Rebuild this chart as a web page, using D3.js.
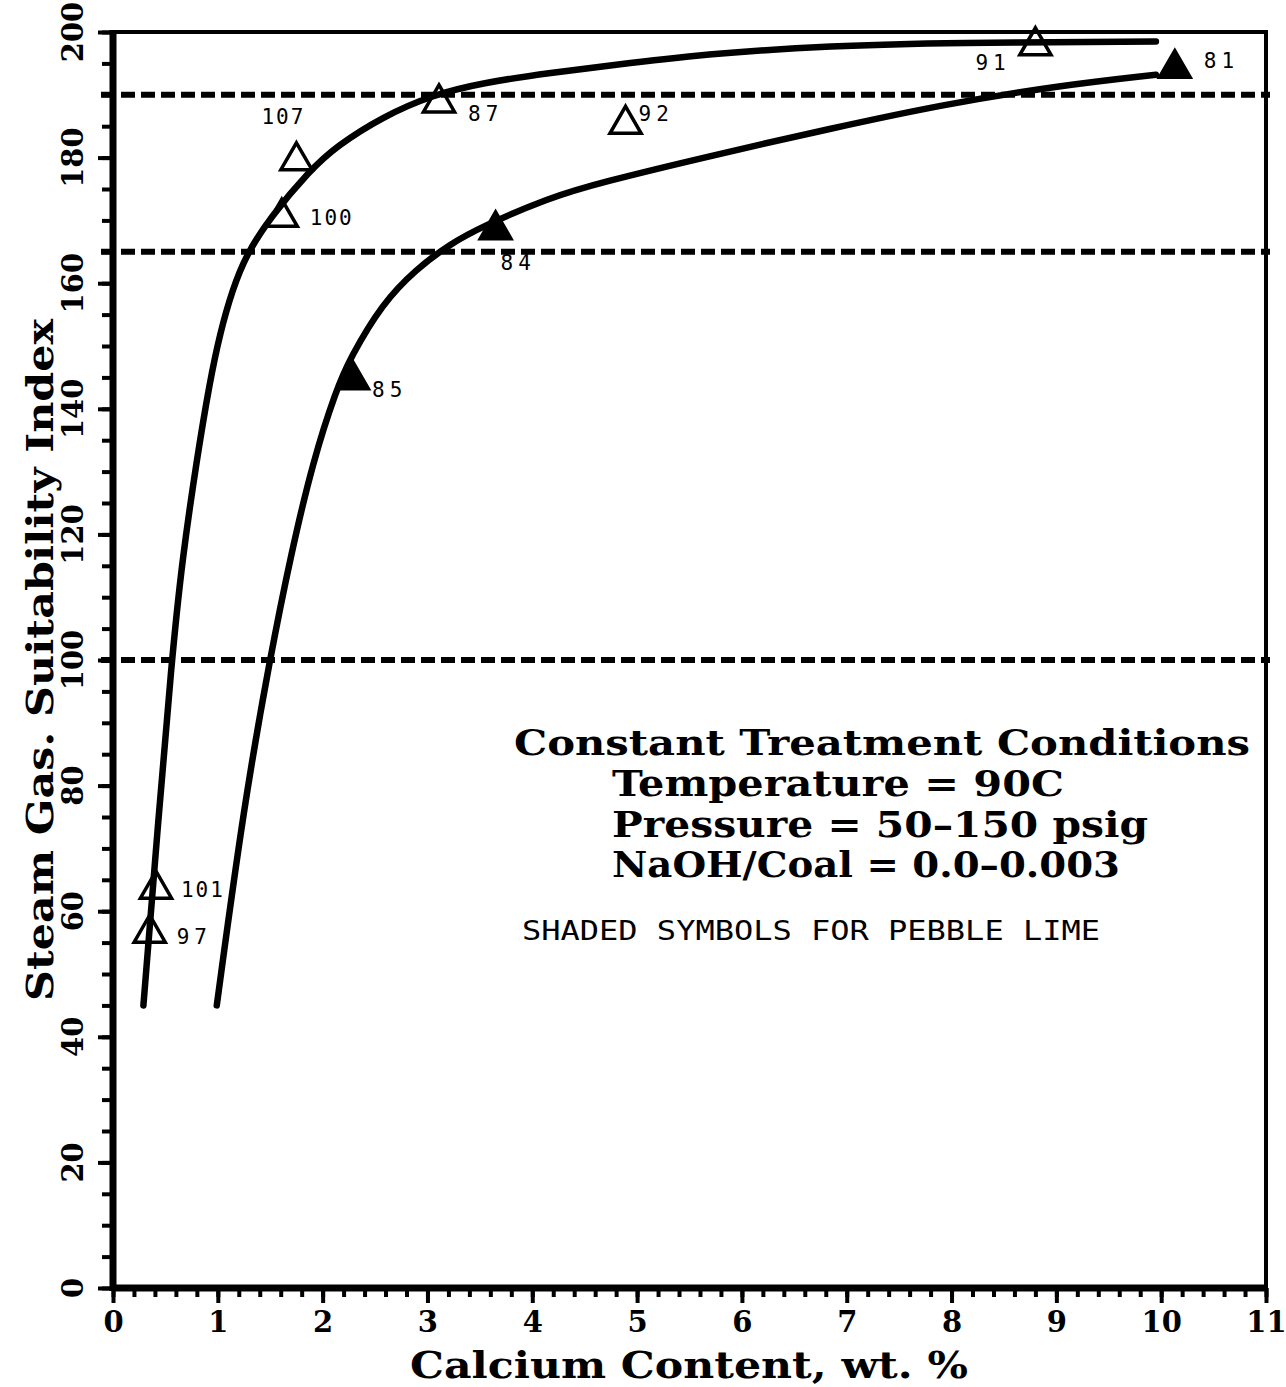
<!DOCTYPE html>
<html>
<head>
<meta charset="utf-8">
<script src="https://cdn.jsdelivr.net/npm/d3@7"></script>
<style>
  body { margin: 0; background: #fff; }
  svg { display: block; }
</style>
</head>
<body>
<div class="chart"></div>
<script>
// Data
const xTickValues = [0, 1, 2, 3, 4, 5, 6, 7, 8, 9, 10, 11];
const yTickValues = [0, 20, 40, 60, 80, 100, 120, 140, 160, 180, 200];

// upper curve (open symbols)
const openCurveX = [0.29, 0.42, 0.56, 0.66, 0.8, 0.92, 1.02, 1.14, 1.27, 1.5, 1.88, 2.13, 2.57, 3.05, 3.52, 4.16, 4.9, 5.73, 6.84, 8.0, 9.95];
const openCurveY = [45, 72, 100, 116, 132, 144, 152, 159, 164.5, 170.5, 178, 181.8, 186.5, 190, 191.9, 193.5, 195, 196.6, 197.8, 198.3, 198.5];

// lower curve (pebble lime)
const limeCurveX = [0.99, 1.25, 1.5, 1.7, 1.91, 2.13, 2.26, 2.57, 2.89, 3.21, 3.53, 4.16, 4.64, 5.73, 6.84, 7.93, 9.04, 9.95];
const limeCurveY = [45, 77, 100.5, 117, 131.8, 143, 148, 156.8, 162.2, 166.2, 169.1, 173.6, 176, 180.4, 184.6, 188.5, 191.5, 193.2];

// reference levels (dashed)
const refLevels = [190, 165, 100];

// open triangles
const openPtX = [0.35, 0.41, 1.61, 1.75, 3.11, 4.89, 8.8];
const openPtY = [56.5, 63.5, 170.5, 179.5, 188.7, 185.3, 197.8];
const openPtLabel = ['97', '101', '100', '107', '87', '92', '91'];

// shaded triangles
const limePtX = [2.29, 3.65, 10.13];
const limePtY = [144.6, 168.5, 194.2];
const limePtLabel = ['85', '84', '81'];

const noteTitle = 'Constant Treatment Conditions';
const noteLines = ['Temperature = 90C', 'Pressure = 50\u2013150 psig', 'NaOH/Coal = 0.0\u20130.003'];
const shadedNote = 'SHADED SYMBOLS FOR PEBBLE LIME';

// Size of svg
const svgWidth = 1286;
const svgHeight = 1387;

const svg = d3
  .select('.chart')
  .append('svg')
  .attr('width', svgWidth)
  .attr('height', svgHeight);

const x = d3.scaleLinear().domain([0, 11]).range([113, 1266]);
const y = d3.scaleLinear().domain([0, 200]).range([1288, 32]);

const serif = '"DejaVu Serif", serif';
const mono = '"DejaVu Sans Mono", monospace';

// minor ticks on x
svg.append('g')
  .attr('transform', `translate(0, ${y(0)})`)
  .call(d3.axisBottom(x).tickValues(d3.range(0, 11.01, 0.2)).tickSize(9).tickFormat(''))
  .call((g) => g.select('.domain').remove())
  .call((g) => g.selectAll('line').attr('stroke-width', 4));

// major ticks on x
const xAxis = svg.append('g')
  .attr('transform', `translate(0, ${y(0)})`)
  .call(d3.axisBottom(x).tickValues(xTickValues).tickSize(15).tickPadding(8).tickFormat(d3.format('d')));
xAxis.select('.domain').remove();
xAxis.selectAll('line').attr('stroke-width', 4);
xAxis.selectAll('text')
  .attr('font-family', serif)
  .attr('font-weight', 'bold')
  .attr('font-size', 29)
  .attr('fill', '#000');

// minor ticks on y
svg.append('g')
  .attr('transform', `translate(${x(0)}, 0)`)
  .call(d3.axisLeft(y).tickValues(d3.range(0, 201, 5)).tickSize(11).tickFormat(''))
  .call((g) => g.select('.domain').remove())
  .call((g) => g.selectAll('line').attr('stroke-width', 4));

// major ticks on y
svg.append('g')
  .attr('transform', `translate(${x(0)}, 0)`)
  .call(d3.axisLeft(y).tickValues(yTickValues).tickSize(15).tickFormat(''))
  .call((g) => g.select('.domain').remove())
  .call((g) => g.selectAll('line').attr('stroke-width', 4));

// y tick labels, rotated
svg.append('g')
  .selectAll('text')
  .data(yTickValues)
  .enter()
  .append('text')
  .attr('transform', (d) => `translate(83, ${y(d)}) rotate(-90)`)
  .attr('text-anchor', 'middle')
  .attr('font-family', serif)
  .attr('font-weight', 'bold')
  .attr('font-size', 29)
  .text((d) => d);

// frame
svg.append('rect')
  .attr('x', x(0))
  .attr('y', y(200))
  .attr('width', x(11) - x(0))
  .attr('height', y(0) - y(200))
  .attr('fill', 'none')
  .attr('stroke', '#000')
  .attr('stroke-width', 4);
svg.append('line')
  .attr('x1', x(0)).attr('x2', x(11))
  .attr('y1', y(0)).attr('y2', y(0))
  .attr('stroke', '#000').attr('stroke-width', 7);
svg.append('line')
  .attr('x1', x(0)).attr('x2', x(0))
  .attr('y1', y(0) + 3).attr('y2', y(200) - 2)
  .attr('stroke', '#000').attr('stroke-width', 7);

// dashed reference lines
svg.append('g')
  .selectAll('line')
  .data(refLevels)
  .enter()
  .append('line')
  .attr('x1', x(0) - 12)
  .attr('x2', x(11) + 4)
  .attr('y1', (d) => y(d))
  .attr('y2', (d) => y(d))
  .attr('stroke', '#000')
  .attr('stroke-width', 6)
  .attr('stroke-dasharray', '14,6');

// curves
const line = d3.line()
  .x((d) => x(d[0]))
  .y((d) => y(d[1]))
  .curve(d3.curveBasis);

const curves = [d3.zip(openCurveX, openCurveY), d3.zip(limeCurveX, limeCurveY)];
svg.append('g')
  .selectAll('path')
  .data(curves)
  .enter()
  .append('path')
  .attr('d', line)
  .attr('fill', 'none')
  .attr('stroke', '#000')
  .attr('stroke-width', 6.5)
  .attr('stroke-linecap', 'round')
  .attr('stroke-linejoin', 'round');

// triangles
const tri = d3.symbol().type(d3.symbolTriangle).size(420);

const openPts = openPtX.map((v, i) => ({ x: v, y: openPtY[i], label: openPtLabel[i] }));
const limePts = limePtX.map((v, i) => ({ x: v, y: limePtY[i], label: limePtLabel[i] }));

svg.append('g')
  .selectAll('path')
  .data(openPts)
  .enter()
  .append('path')
  .attr('d', tri)
  .attr('transform', (d) => `translate(${x(d.x)}, ${y(d.y)})`)
  .attr('fill', 'none')
  .attr('stroke', '#000')
  .attr('stroke-width', 3.5);

svg.append('g')
  .selectAll('path')
  .data(limePts)
  .enter()
  .append('path')
  .attr('d', d3.symbol().type(d3.symbolTriangle).size(480))
  .attr('transform', (d) => `translate(${x(d.x)}, ${y(d.y)})`)
  .attr('fill', '#000')
  .attr('stroke', '#000')
  .attr('stroke-width', 2);

// label offsets next to each symbol
const labelOffset = {
  '97': [27, 11], '101': [25, 8], '100': [28, 8], '107': [-35, -37],
  '87': [29, 18], '92': [13, -3], '91': [-60, 24],
  '85': [19, 17], '84': [5, 40], '81': [29, 0],
};

svg.append('g')
  .selectAll('text')
  .data(openPts.concat(limePts))
  .enter()
  .append('text')
  .attr('x', (d) => x(d.x) + labelOffset[d.label][0])
  .attr('y', (d) => y(d.y) + labelOffset[d.label][1])
  .attr('font-family', mono)
  .attr('font-size', 21)
  .attr('letter-spacing', (d) => (d.label.length === 2 ? 5 : 2))
  .text((d) => d.label);

// conditions note
svg.append('text')
  .attr('x', 514)
  .attr('y', 755)
  .attr('font-family', serif)
  .attr('font-weight', 'bold')
  .attr('font-size', 36)
  .attr('textLength', 736)
  .attr('lengthAdjust', 'spacingAndGlyphs')
  .text(noteTitle);

const noteWidths = [452, 536, 508];
svg.append('g')
  .selectAll('text')
  .data(noteLines)
  .enter()
  .append('text')
  .attr('x', 612)
  .attr('y', (d, i) => 796 + i * 40.5)
  .attr('font-family', serif)
  .attr('font-weight', 'bold')
  .attr('font-size', 35)
  .attr('textLength', (d, i) => noteWidths[i])
  .attr('lengthAdjust', 'spacingAndGlyphs')
  .text((d) => d);

svg.append('text')
  .attr('x', 522)
  .attr('y', 940)
  .attr('font-family', mono)
  .attr('font-size', 27)
  .attr('textLength', 578)
  .attr('lengthAdjust', 'spacingAndGlyphs')
  .text(shadedNote);

// axis titles
svg.append('text')
  .attr('x', 689)
  .attr('y', 1378)
  .attr('text-anchor', 'middle')
  .attr('font-family', serif)
  .attr('font-weight', 'bold')
  .attr('font-size', 37)
  .attr('textLength', 558)
  .attr('lengthAdjust', 'spacingAndGlyphs')
  .text('Calcium Content, wt. %');

svg.append('text')
  .attr('transform', `translate(53, 660) rotate(-90)`)
  .attr('text-anchor', 'middle')
  .attr('font-family', serif)
  .attr('font-weight', 'bold')
  .attr('font-size', 37)
  .attr('textLength', 682)
  .attr('lengthAdjust', 'spacingAndGlyphs')
  .text('Steam Gas. Suitability Index');
</script>
</body>
</html>
